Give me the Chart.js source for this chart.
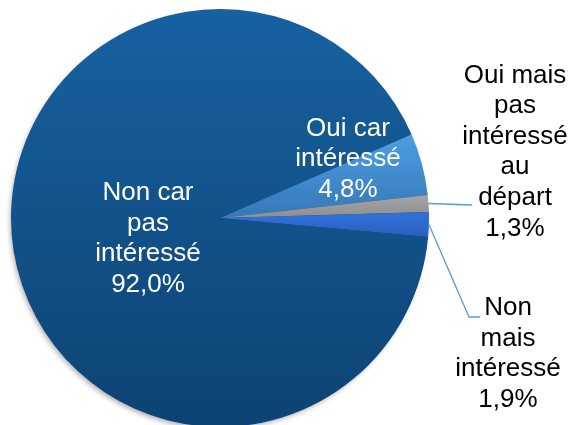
<!DOCTYPE html>
<html>
<head>
<meta charset="utf-8">
<script src="https://cdn.jsdelivr.net/npm/chart.js@4/dist/chart.umd.min.js"></script>
<style>
  html, body { margin: 0; padding: 0; background: #fff; overflow: hidden; }
  #wrap { width: 572px; height: 427px; position: relative; }
</style>
</head>
<body>
<div id="wrap"><canvas id="pieChart"></canvas></div>
<script>
// data
const categories = ['Oui car intéressé', 'Oui mais pas intéressé au départ', 'Non mais intéressé', 'Non car pas intéressé'];
const percents = [4.8, 1.3, 1.9, 92.0];
const labelLines = [
    ['Oui car', 'intéressé'],
    ['Oui mais', 'pas', 'intéressé', 'au', 'départ'],
    ['Non', 'mais', 'intéressé'],
    ['Non car', 'pas', 'intéressé']
];

// where each label sits, relative to the pie centre
const labelSpots = [
    { dx: 128, dy: -59, color: '#ffffff', leader: null },
    { dx: 295, dy: -66, color: '#000000', leader: [[252, -13]] },
    { dx: 288, dy: 136, color: '#000000', leader: [[249, 99], [260, 99]] },
    { dx: -72, dy: 21, color: '#ffffff', leader: null }
];

function sliceColor(context) {
    const chart = context.chart;
    const area = chart.chartArea;
    if (!area) return '#155490';
    const ctx = chart.ctx;
    const g = ctx.createLinearGradient(0, area.top, 0, area.bottom);
    switch (context.dataIndex) {
        case 0:
            g.addColorStop(0.28, '#4FA2E6');
            g.addColorStop(0.5, '#3678B8');
            break;
        case 1:
            g.addColorStop(0.45, '#a3a3a3');
            g.addColorStop(0.5, '#8e8e8e');
            break;
        case 2:
            g.addColorStop(0.5, '#306fd6');
            g.addColorStop(0.56, '#2659b4');
            break;
        default:
            g.addColorStop(0, '#1761a1');
            g.addColorStop(1, '#0d4373');
    }
    return g;
}

const shadowPlugin = {
    id: 'pieShadow',
    beforeDatasetsDraw(chart) {
        const arc = chart.getDatasetMeta(0).data[0];
        if (!arc) return;
        const ctx = chart.ctx;
        ctx.save();
        ctx.shadowColor = 'rgba(0,0,0,0.3)';
        ctx.shadowBlur = 5;
        ctx.shadowOffsetX = -2;
        ctx.shadowOffsetY = 3;
        ctx.fillStyle = '#0f4a7d';
        ctx.beginPath();
        ctx.arc(arc.x, arc.y, arc.outerRadius - 1, 0, Math.PI * 2);
        ctx.fill();
        ctx.restore();
    }
};

const labelPlugin = {
    id: 'sliceLabels',
    afterDatasetsDraw(chart) {
        const meta = chart.getDatasetMeta(0);
        const ctx = chart.ctx;
        ctx.save();
        ctx.font = '26px "Liberation Sans", Arial, sans-serif';
        ctx.textAlign = 'center';
        ctx.textBaseline = 'middle';
        const lineH = 30.6;
        meta.data.forEach((arc, i) => {
            const spot = labelSpots[i];
            const cx = arc.x, cy = arc.y;
            if (spot.leader) {
                const mid = (arc.startAngle + arc.endAngle) / 2;
                ctx.strokeStyle = '#5b9bd5';
                ctx.lineWidth = 1.3;
                ctx.beginPath();
                ctx.moveTo(cx + Math.cos(mid) * arc.outerRadius, cy + Math.sin(mid) * arc.outerRadius);
                spot.leader.forEach(p => ctx.lineTo(cx + p[0], cy + p[1]));
                ctx.stroke();
            }
            const lines = labelLines[i].concat([percents[i].toFixed(1).replace('.', ',') + '%']);
            const top = cy + spot.dy - (lines.length - 1) * lineH / 2;
            ctx.fillStyle = spot.color;
            lines.forEach((t, k) => ctx.fillText(t, cx + spot.dx, top + k * lineH));
        });
        ctx.restore();
    }
};

new Chart(document.getElementById('pieChart'), {
    type: 'pie',
    data: {
        labels: categories,
        datasets: [{
            data: percents,
            backgroundColor: sliceColor,
            borderWidth: 0
        }]
    },
    options: {
        responsive: true,
        maintainAspectRatio: false,
        animation: false,
        rotation: 66.4,
        layout: { padding: { left: 11, right: 143, top: 9, bottom: 0 } },
        plugins: {
            legend: { display: false },
            tooltip: { enabled: false }
        }
    },
    plugins: [shadowPlugin, labelPlugin]
});
</script>
</body>
</html>
